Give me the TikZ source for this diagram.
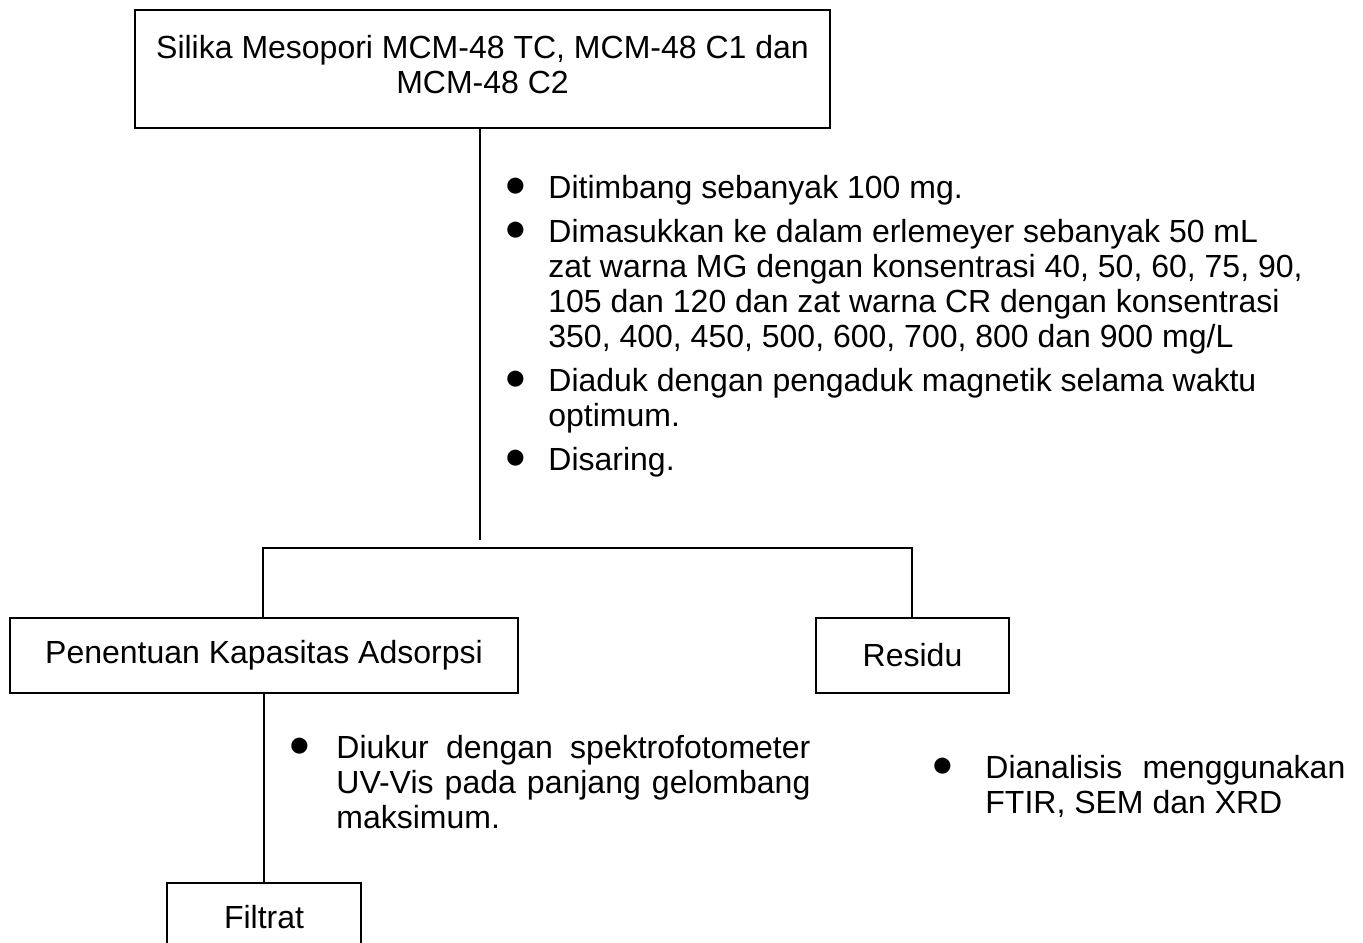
\documentclass[tikz,border=0pt]{standalone}
\usepackage{fontspec}
\usepackage{graphicx}
\setmainfont{Liberation Sans}
\usetikzlibrary{calc}

\newcommand{\butir}[1]{\par\noindent\spaceskip=0pt\xspaceskip=0pt\hangindent=#1\hangafter=1\makebox[#1][l]{\raisebox{1.2pt}{\scalebox{1.2}{$\bullet$}}}}

\begin{document}
\begin{tikzpicture}[x=0.5pt,y=-0.5pt,
        every node/.style={font=\fontsize{16}{17.5}\selectfont},
        kotak/.style={draw,line width=0.8pt,align=center,inner sep=0pt},
        daftar/.style={anchor=north west,inner sep=0pt,align=left,execute at begin node=\setlength{\parskip}{4.5pt}},
        garis/.style={line width=0.7pt}]
        \useasboundingbox (0,0) rectangle (1363,942);

        % sampel
        \node[kotak,minimum width=347.5pt,minimum height=59pt,text width=335pt] (silika) at (482.5,69) {\spaceskip=0pt \mbox{Silika Mesopori MCM-48 TC, MCM-48 C1 dan}\\\mbox{MCM-48 C2}\rule[-4.5pt]{0pt}{4.5pt}};
        \node[daftar,text width=407.5pt] (langkah1) at (505,154) {%
            \butir{21.5pt}Ditimbang sebanyak 100 mg.
            \butir{21.5pt}Dimasukkan ke dalam erlemeyer sebanyak 50 mL\newline zat warna MG dengan konsentrasi 40, 50, 60, 75, 90,\newline 105 dan 120 dan zat warna CR dengan konsentrasi\newline 350, 400, 450, 500, 600, 700, 800 dan 900 mg/L
            \butir{21.5pt}Diaduk dengan pengaduk magnetik selama waktu\newline optimum.
            \butir{21.5pt}Disaring.\par};

        % hasil saring
        \node[kotak,minimum width=254pt,minimum height=37.5pt] (penentuan) at (264,655.5) {Penentuan Kapasitas Adsorpsi};
        \node[kotak,minimum width=96.5pt,minimum height=37.5pt] (residu) at (912.5,655.5) {Residu};

        \coordinate (pisah) at (480,540);
        \coordinate (cabangkiri) at (263,548);
        \coordinate (cabangkanan) at (912,548);
        \draw[garis] (silika.south -| pisah) -- (pisah);
        \draw[garis] (penentuan.north -| cabangkiri) -- (cabangkiri) -- (cabangkanan) -- (residu.north -| cabangkanan);

        % filtrat
        \node[daftar,text width=260.5pt] (langkah2) at (289,714) {%
            \butir{23.5pt}\makebox[237pt][s]{Diukur dengan spektrofotometer}\newline \makebox[237pt][s]{UV-Vis pada panjang gelombang}\newline maksimum.\par};
        \node[kotak,minimum width=97pt,minimum height=37.5pt,text depth=4pt] (filtrat) at (264,920.5) {Filtrat};
        \draw[garis] (penentuan.south) -- (filtrat.north);

        % residu
        \node[daftar,text width=206.5pt] (langkah3) at (932,734) {%
            \butir{26.5pt}\makebox[180pt][s]{Dianalisis menggunakan}\newline FTIR, SEM dan XRD\par};
    \end{tikzpicture}
\end{document}
